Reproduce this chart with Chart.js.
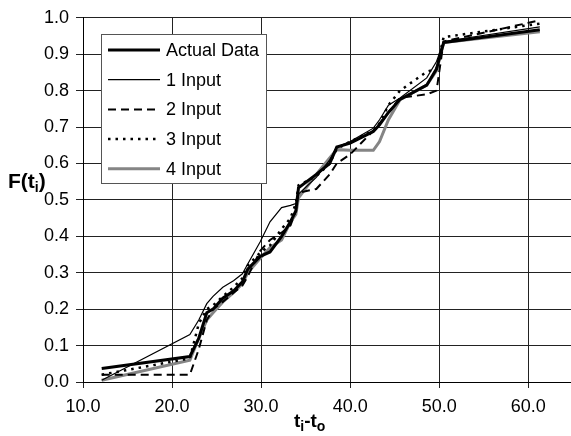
<!DOCTYPE html>
<html>
<head>
<meta charset="utf-8">
<script src="https://cdn.jsdelivr.net/npm/chart.js@4"></script>
<style>
  html, body { margin: 0; padding: 0; background: #fff; }
  #wrap { width: 571px; height: 436px; }
</style>
</head>
<body>
<div id="wrap"><canvas id="cdfChart" width="571" height="436"></canvas></div>
<script>
// time since start (t_i - t_o)
const tValues = [12.1, 22.0, 23.0, 23.9, 24.6, 25.7, 26.9, 27.9, 28.5, 29.9, 31.0, 32.3, 33.3, 33.9, 34.2, 36.2, 37.7, 38.5, 40.0, 42.6, 43.3, 44.3, 45.6, 48.6, 49.7, 50.5, 61.3];

// F(t_i) for each series
const actualData = [0.037, 0.07, 0.12, 0.19, 0.20, 0.23, 0.25, 0.275, 0.31, 0.345, 0.357, 0.40, 0.44, 0.47, 0.533, 0.57, 0.60, 0.645, 0.656, 0.688, 0.706, 0.74, 0.776, 0.815, 0.86, 0.932, 0.967];
const input1 = [0.005, 0.13, 0.17, 0.215, 0.235, 0.26, 0.278, 0.297, 0.324, 0.385, 0.44, 0.479, 0.485, 0.49, 0.516, 0.562, 0.61, 0.645, 0.66, 0.697, 0.72, 0.76, 0.78, 0.835, 0.88, 0.935, 0.975];
const input2 = [0.02, 0.02, 0.09, 0.17, 0.20, 0.22, 0.245, 0.265, 0.29, 0.36, 0.39, 0.41, 0.43, 0.47, 0.52, 0.53, 0.57, 0.60, 0.625, 0.69, 0.71, 0.74, 0.78, 0.79, 0.80, 0.935, 0.993];
const input3 = [0.02, 0.065, 0.16, 0.20, 0.21, 0.235, 0.26, 0.285, 0.32, 0.355, 0.375, 0.42, 0.45, 0.49, 0.54, 0.565, 0.60, 0.64, 0.66, 0.69, 0.71, 0.76, 0.80, 0.852, 0.86, 0.947, 0.984];
const input4 = [0.005, 0.06, 0.12, 0.17, 0.19, 0.22, 0.245, 0.27, 0.30, 0.34, 0.369, 0.39, 0.44, 0.46, 0.506, 0.57, 0.615, 0.638, 0.636, 0.636, 0.66, 0.72, 0.775, 0.815, 0.855, 0.932, 0.962];

const seriesLabels = ['Actual Data', '1 Input', '2 Input', '3 Input', '4 Input'];
const xTicks = [10, 20, 30, 40, 50, 60];

const FONT = '"Liberation Sans", Arial, sans-serif';

const toPoints = (ys) => ys.map((y, i) => ({ x: tValues[i], y: y }));

// legend drawn inside the plot, Excel style
const boxLegend = {
  id: 'boxLegend',
  afterDraw(chart) {
    const ctx = chart.ctx;
    const left = 101, top = 34, w = 165, h = 149;
    ctx.save();
    ctx.fillStyle = '#fff';
    ctx.fillRect(left, top, w, h);
    ctx.strokeStyle = '#555';
    ctx.lineWidth = 1;
    ctx.strokeRect(left + 0.5, top + 0.5, w, h);
    ctx.font = '18px ' + FONT;
    ctx.textBaseline = 'middle';
    chart.data.datasets.forEach((ds, i) => {
      const y = 50 + i * 29.7;
      ctx.beginPath();
      ctx.strokeStyle = ds.borderColor;
      ctx.lineWidth = ds.borderWidth;
      ctx.setLineDash(ds.borderDash || []);
      ctx.moveTo(108, y);
      ctx.lineTo(160, y);
      ctx.stroke();
      ctx.setLineDash([]);
      ctx.fillStyle = '#000';
      ctx.fillText(ds.label, 166, y + 1);
    });
    ctx.restore();
  }
};

// axis titles with subscripts
const axisTitles = {
  id: 'axisTitles',
  afterDraw(chart) {
    const ctx = chart.ctx;
    ctx.save();
    ctx.fillStyle = '#000';
    ctx.textBaseline = 'alphabetic';
    const big = 'bold 21px ' + FONT;
    const small = 'bold 14px ' + FONT;

    // F(t_i)
    let x = 8, y = 188;
    ctx.font = big; ctx.fillText('F(t', x, y); x += ctx.measureText('F(t').width;
    ctx.font = small; ctx.fillText('i', x, y + 4); x += ctx.measureText('i').width;
    ctx.font = big; ctx.fillText(')', x, y);

    // t_i - t_o
    x = 294; y = 427;
    ctx.font = 'bold 19px ' + FONT; ctx.fillText('t', x, y); x += ctx.measureText('t').width;
    ctx.font = small; ctx.fillText('i', x, y + 4); x += ctx.measureText('i').width;
    ctx.font = 'bold 19px ' + FONT; ctx.fillText('-t', x, y); x += ctx.measureText('-t').width;
    ctx.font = small; ctx.fillText('o', x, y + 4);
    ctx.restore();
  }
};

new Chart(document.getElementById('cdfChart'), {
  type: 'line',
  data: {
    datasets: [
      { label: seriesLabels[0], data: toPoints(actualData), borderColor: '#000', borderWidth: 3 },
      { label: seriesLabels[1], data: toPoints(input1), borderColor: '#000', borderWidth: 1.2 },
      { label: seriesLabels[2], data: toPoints(input2), borderColor: '#000', borderWidth: 2, borderDash: [8, 5] },
      { label: seriesLabels[3], data: toPoints(input3), borderColor: '#000', borderWidth: 2.5, borderDash: [2.5, 5] },
      { label: seriesLabels[4], data: toPoints(input4), borderColor: '#858585', borderWidth: 3 }
    ].map(ds => Object.assign(ds, { pointRadius: 0, fill: false, tension: 0 }))
  },
  options: {
    responsive: false,
    animation: false,
    events: [],
    layout: { padding: { top: 16, right: 0, bottom: 0, left: 0 } },
    plugins: { legend: { display: false }, tooltip: { enabled: false } },
    scales: {
      x: {
        type: 'linear',
        min: 10,
        max: 64.8,
        afterBuildTicks: (scale) => { scale.ticks = xTicks.map(v => ({ value: v })); },
        afterFit: (scale) => { scale.height = 54; },
        grid: { color: '#222', lineWidth: 1, tickLength: 6 },
        border: { color: '#000', width: 1 },
        ticks: {
          color: '#000',
          padding: 8,
          maxRotation: 0,
          font: { family: FONT, size: 18 },
          callback: (v) => v.toFixed(1)
        }
      },
      y: {
        min: 0,
        max: 1,
        afterFit: (scale) => { scale.width = 83; },
        grid: { color: '#222', lineWidth: 1, tickLength: 7 },
        border: { color: '#000', width: 1 },
        ticks: {
          color: '#000',
          stepSize: 0.1,
          padding: 7,
          font: { family: FONT, size: 18 },
          callback: (v) => v.toFixed(1)
        }
      }
    }
  },
  plugins: [boxLegend, axisTitles]
});
</script>
</body>
</html>
